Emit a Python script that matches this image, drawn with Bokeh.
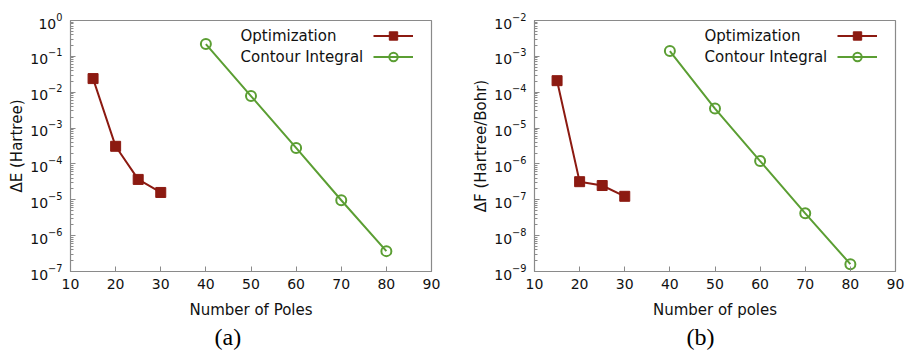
from bokeh.plotting import figure
from bokeh.layouts import row
from bokeh.models import Range1d, Legend, LegendItem, Label, FixedTicker, Title
from bokeh.embed import file_html
from bokeh.resources import INLINE

# ---------------- data ----------------
opt_poles = [15, 20, 25, 30]
ci_poles = [40, 50, 60, 70, 80]

opt_dE = [2.4e-2, 3.1e-4, 3.7e-5, 1.6e-5]
ci_dE = [2.2e-1, 7.8e-3, 2.8e-4, 9.7e-6, 3.7e-7]

opt_dF = [2.1e-4, 3.2e-7, 2.5e-7, 1.25e-7]
ci_dF = [1.4e-3, 3.5e-5, 1.2e-6, 4.2e-8, 1.6e-9]

x_ticks = [10, 20, 30, 40, 50, 60, 70, 80, 90]
dE_decades = [0, -1, -2, -3, -4, -5, -6, -7]
dF_decades = [-2, -3, -4, -5, -6, -7, -8, -9]
series_names = ["Optimization", "Contour Integral"]

RED = "#8c1a11"
GREEN = "#5b9e33"
FONT = "DejaVu Sans"
GRAY = "#8a8a8a"


def make_panel(opt_y, ci_y, decades, ylabel, xlabel, caption, width, border_left, border_right, caption_offset):
    lo, hi = min(decades), max(decades)
    p = figure(width=width, height=352, x_axis_type="linear", y_axis_type="log",
               x_range=Range1d(10, 90), y_range=Range1d(10.0 ** lo, 10.0 ** hi),
               output_backend="svg", toolbar_location=None,
               frame_width=361, frame_height=251,
               min_border_left=border_left, min_border_right=border_right,
               min_border_top=20, min_border_bottom=81)
    p.grid.visible = False
    p.outline_line_color = GRAY
    p.outline_line_width = 1.2

    l1 = p.line(opt_poles, opt_y, line_color=RED, line_width=2)
    m1 = p.scatter(opt_poles, opt_y, marker="square", size=10, fill_color=RED, line_color=RED)
    l2 = p.line(ci_poles, ci_y, line_color=GREEN, line_width=2)
    m2 = p.scatter(ci_poles, ci_y, marker="circle", size=10, fill_color=None, line_color=GREEN, line_width=2)

    xa = p.xaxis[0]
    xa.ticker = FixedTicker(ticks=x_ticks, minor_ticks=[])
    ya = p.yaxis[0]
    major = [10.0 ** d for d in decades]
    minor = [k * 10.0 ** d for d in decades if d < hi for k in range(2, 10)]
    ya.ticker = FixedTicker(ticks=major, minor_ticks=minor)
    for ax in (xa, ya):
        ax.axis_line_color = GRAY
        ax.major_tick_line_color = GRAY
        ax.minor_tick_line_color = GRAY
        ax.major_tick_in = 5
        ax.major_tick_out = 0
        ax.minor_tick_in = 3
        ax.minor_tick_out = 0
        ax.major_label_text_font = FONT
        ax.major_label_text_font_size = "14px"
        ax.major_label_text_color = "#111111"
        ax.axis_label_text_font = FONT
        ax.axis_label_text_font_size = "15px"
        ax.axis_label_text_font_style = "normal"
        ax.axis_label_text_color = "#111111"
    xa.major_label_standoff = 7
    xa.axis_label = xlabel
    xa.axis_label_standoff = 9
    ya.major_label_standoff = 8
    ya.axis_label = ylabel
    ya.axis_label_standoff = 1

    legend = Legend(items=[LegendItem(label="", renderers=[l1, m1]),
                           LegendItem(label="", renderers=[l2, m2])],
                    location=(303, 204.5), padding=0, margin=0, spacing=0,
                    glyph_width=40, glyph_height=21, label_height=21,
                    label_width=0, label_standoff=0,
                    border_line_alpha=0, background_fill_alpha=0)
    p.add_layout(legend, "center")

    for name, yy in zip(series_names, [236, 215]):
        p.add_layout(Label(x=170, y=yy, x_units="screen", y_units="screen", text=name,
                           text_font=FONT, text_font_size="15px", text_color="#111111",
                           text_baseline="middle", text_align="left"))

    p.add_layout(Title(text=caption, align="left", offset=caption_offset, standoff=0,
                       text_font="Liberation Serif", text_font_size="24px",
                       text_font_style="normal", text_color="#000000"), "below")
    return p


p1 = make_panel(opt_dE, ci_dE, dE_decades, "ΔE (Hartree)", "Number of Poles", "(a)",
                453, 70, 22, 144)
p2 = make_panel(opt_dF, ci_dF, dF_decades, "ΔF (Hartree/Bohr)", "Number of poles", "(b)",
                454, 81, 12, 152)

layout = row(p1, p2)
open("out.html", "w").write(file_html(layout, INLINE))
